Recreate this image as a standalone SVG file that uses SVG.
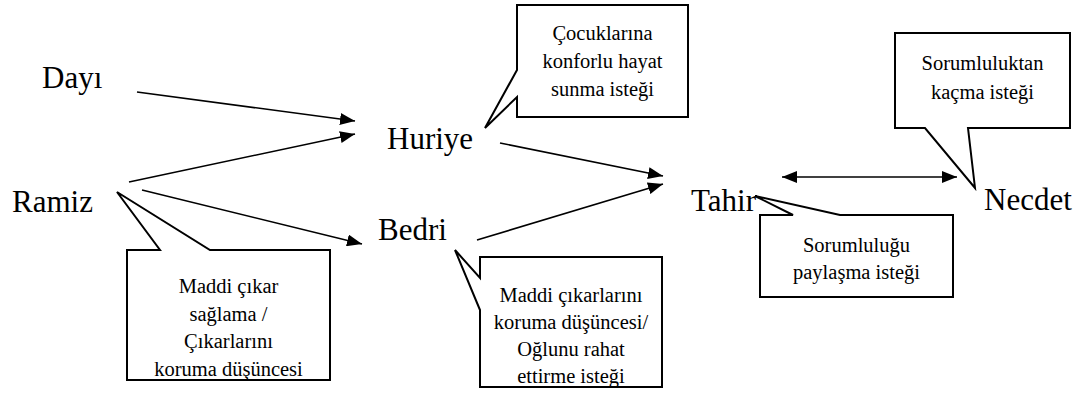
<svg xmlns="http://www.w3.org/2000/svg" width="1076" height="395" viewBox="0 0 1076 395" font-family="'Liberation Serif', 'Times New Roman', Times, 'DejaVu Serif', serif">
<style>
text{font-family:"Liberation Serif","Times New Roman",Times,"DejaVu Serif",serif}
.lbl{font-size:31px;fill:#000}
.ct{font-size:20.5px;fill:#000;text-anchor:middle}
.co{fill:#fff;stroke:#000;stroke-width:2;stroke-linejoin:miter}
.ar{stroke:#000;stroke-width:1.6;fill:none}
</style>
<defs>
<marker id="ah" markerUnits="userSpaceOnUse" viewBox="0 0 15 12" markerWidth="15" markerHeight="12" refX="15" refY="6" orient="auto-start-reverse">
<path d="M0,0 L15,6 L0,12 Z" fill="#000"/>
</marker>
<clipPath id="cR"><rect x="127" y="250" width="203" height="129"/></clipPath>
<clipPath id="cB"><rect x="480" y="257" width="182" height="129"/></clipPath>
</defs>
<rect width="1076" height="395" fill="#fff"/>

<g id="connectors">
<line class="ar" x1="137" y1="92" x2="355" y2="121" marker-end="url(#ah)"/>
<line class="ar" x1="129" y1="182" x2="355" y2="134" marker-end="url(#ah)"/>
<line class="ar" x1="142" y1="190" x2="362" y2="244" marker-end="url(#ah)"/>
<line class="ar" x1="500" y1="143" x2="663" y2="176" marker-end="url(#ah)"/>
<line class="ar" x1="477" y1="240" x2="663" y2="184" marker-end="url(#ah)"/>
<line class="ar" x1="782" y1="177" x2="957" y2="177" marker-start="url(#ah)" marker-end="url(#ah)"/>
</g>

<g id="dayi"><text class="lbl" x="42" y="88">Dayı</text></g>
<g id="ramiz"><text class="lbl" x="12" y="212">Ramiz</text></g>
<g id="huriye"><text class="lbl" x="387" y="149">Huriye</text></g>
<g id="bedri"><text class="lbl" x="378" y="240">Bedri</text></g>
<g id="tahir"><text class="lbl" x="691" y="211">Tahir</text></g>
<g id="necdet"><text class="lbl" x="984" y="210">Necdet</text></g>

<g id="callout-huriye">
<path class="co" d="M517,5 H688 V117 H517 V97 L485,128 L517,70 Z"/>
<text class="ct" x="602.5" y="40">Çocuklarına</text>
<text class="ct" x="602.5" y="68">konforlu hayat</text>
<text class="ct" x="602.5" y="96">sunma isteği</text>
</g>

<g id="callout-ramiz">
<path class="co" d="M127,250 H160 L117,192 L210,250 H330 V380 H127 Z"/>
<g clip-path="url(#cR)">
<text class="ct" x="228.5" y="293">Maddi çıkar</text>
<text class="ct" x="228.5" y="320.5">sağlama /</text>
<text class="ct" x="228.5" y="348">Çıkarlarını</text>
<text class="ct" x="228.5" y="376">koruma düşüncesi</text>
</g>
</g>

<g id="callout-bedri">
<path class="co" d="M480,257 H662 V387 H480 V310 L455,250 L480,278 Z"/>
<g clip-path="url(#cB)">
<text class="ct" x="571" y="302">Maddi çıkarlarını</text>
<text class="ct" x="571" y="329">koruma düşüncesi/</text>
<text class="ct" x="571" y="356">Oğlunu rahat</text>
<text class="ct" x="571" y="383">ettirme isteği</text>
</g>
</g>

<g id="callout-tahir">
<path class="co" d="M760,215 H793 L755,196 L840,215 H953 V297 H760 Z"/>
<text class="ct" x="856.5" y="252">Sorumluluğu</text>
<text class="ct" x="856.5" y="279">paylaşma isteği</text>
</g>

<g id="callout-necdet">
<path class="co" d="M895,33 H1070 V128 H968 L975,188 L925,128 H895 Z"/>
<text class="ct" x="982.5" y="70">Sorumluluktan</text>
<text class="ct" x="982.5" y="99">kaçma isteği</text>
</g>
</svg>
